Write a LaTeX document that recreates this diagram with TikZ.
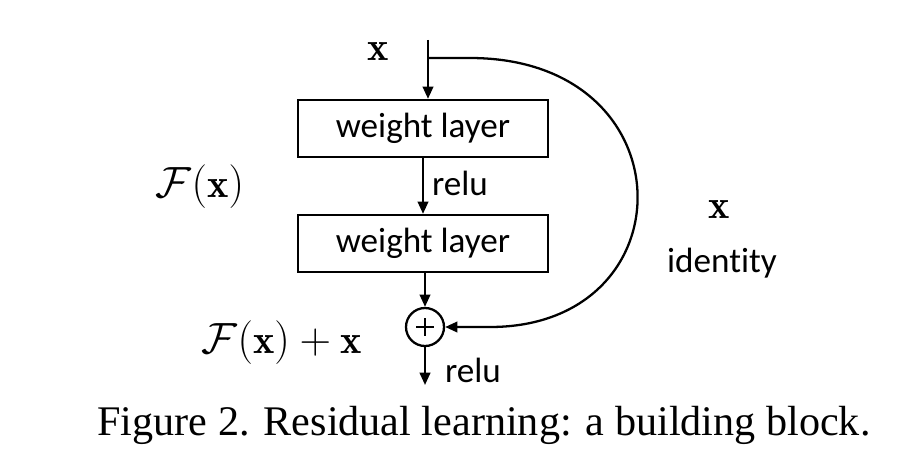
\documentclass[tikz,border=0pt]{standalone}
\usepackage{fontspec}
\usepackage{amsmath,amssymb}
\newfontfamily\boxfont{Carlito}[Ligatures={NoCommon}]
\newfontfamily\capfont{Liberation Serif}
\usetikzlibrary{arrows.meta}
\begin{document}
\begin{tikzpicture}[x=0.02cm,y=-0.02cm,
  box/.style={draw,line width=1.3pt,minimum width=250*0.02cm,minimum height=57*0.02cm,inner sep=0pt,font=\boxfont\fontsize{20}{23}\selectfont},
  lbl/.style={font=\boxfont\fontsize{20}{23}\selectfont,inner sep=0pt},
  mth/.style={font=\fontsize{23}{27}\selectfont,inner sep=0pt},
  arr/.style={line width=1.3pt,-{Triangle[length=7pt,width=6pt]}}]
\useasboundingbox (0,0) rectangle (908,473);
\coordinate (top) at (428,40);
\node[mth] (xin) at (378,52) {$\mathbf{x}$};
\node[box] (b1) at (423,128.5) {weight layer};
\node[box] (b2) at (423,243.5) {weight layer};
\node[draw,circle,line width=1.3pt,minimum size=38*0.02cm,inner sep=0pt] (sum) at (425,327) {};
\draw[line width=1.3pt] (416,327) -- (434,327) (425,318) -- (425,336);
\coordinate (out) at (425,385);
\node[lbl] (r1) at (460,183) {relu};
\node[lbl] (r2) at (473,370) {relu};
\node[mth] (xid) at (719,210) {$\mathbf{x}$};
\node[lbl] (id) at (722,263) {identity};
\node[mth] (fx) at (200,187) {$\mathcal{F}(\mathbf{x})$};
\node[mth] (fxx) at (282,343) {$\mathcal{F}(\mathbf{x})+\mathbf{x}$};
\draw[arr] (top) -- (b1.north -| top);
\draw[arr] (b1) -- (b2);
\draw[arr] (b2.south -| sum) -- (sum.north);
\draw[arr] (sum.south) -- (out);
\draw[arr] (428,58) -- (470,58) .. controls (690,58) and (690,327) .. (490,327) -- (sum.east);
\node[font=\capfont\fontsize{24}{28}\selectfont,inner sep=0pt] (cap) at (484,425) {Figure 2. Residual learning: a building block.};
\end{tikzpicture}
\end{document}
